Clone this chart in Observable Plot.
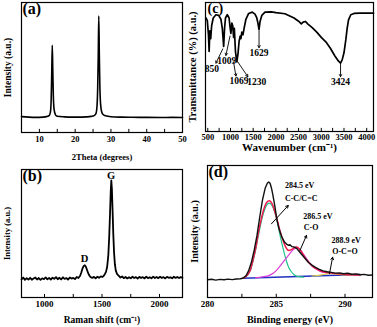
<!DOCTYPE html>
<html><head><meta charset="utf-8">
<script src="https://cdn.jsdelivr.net/npm/d3@7"></script>
<script src="https://cdn.jsdelivr.net/npm/@observablehq/plot@0.6"></script>
<style>
body{margin:0;background:#fff;}
#wrap{position:relative;width:377px;height:327px;overflow:hidden;background:#fff;}
#wrap svg{position:absolute;}
#wrap svg text{font-weight:bold;}
</style></head><body><div id="wrap"></div>
<script>
// ---------- (a) XRD ----------
const xrdTheta = [5, 7, 9, 11, 12, 12.8, 13.1, 13.3, 13.45, 13.6, 13.75, 13.9, 14.1, 14.5, 15, 17, 19, 21, 23, 24.5, 25.3, 25.8, 26.1, 26.3, 26.45, 26.6, 26.75, 26.9, 27.1, 27.4, 27.8, 28.5, 30, 33, 36, 40, 44, 47, 50];
const xrdIntensity = [12.2, 11.8, 11.6, 11.8, 12.2, 13.2, 16, 26, 45, 67, 47, 28, 18, 13.6, 12.5, 12.0, 11.8, 11.8, 12.0, 12.4, 13.0, 14.5, 20, 35, 58, 89.5, 60, 36, 22, 16, 13.8, 12.8, 12.1, 11.8, 11.7, 11.6, 11.5, 11.6, 11.5];
const xrdTicksMajor = [10, 20, 30, 40, 50];
const xrdTicksMinor = [15, 25, 35, 45];

// ---------- (b) Raman ----------
const ramanShift = [800, 815, 830, 845, 860, 875, 890, 905, 920, 935, 950, 965, 980, 995, 1010, 1025, 1040, 1055, 1070, 1085, 1100, 1115, 1130, 1145, 1160, 1175, 1190, 1205, 1220, 1235, 1250, 1265, 1280, 1295, 1310, 1320, 1330, 1340, 1350, 1360, 1370, 1380, 1390, 1400, 1415, 1430, 1445, 1460, 1475, 1490, 1505, 1520, 1535, 1545, 1555, 1563, 1570, 1576, 1581, 1586, 1592, 1598, 1605, 1612, 1620, 1630, 1645, 1660, 1675, 1690, 1705, 1720, 1735, 1750, 1765, 1780, 1795, 1810, 1825, 1840, 1855, 1870, 1885, 1900, 1915, 1930, 1945, 1960, 1975, 1990, 2005, 2020, 2035, 2050, 2065, 2080, 2095, 2110, 2125, 2140, 2155, 2170, 2185, 2200];
const ramanIntensity = [14.2, 15.6, 13.8, 15.1, 14.0, 15.4, 13.9, 14.8, 15.6, 14.1, 15.2, 13.8, 15.0, 14.4, 15.7, 14.2, 15.3, 14.0, 15.5, 14.6, 15.9, 14.3, 15.4, 14.1, 15.8, 14.5, 15.2, 14.0, 15.6, 14.8, 15.3, 14.4, 16.0, 15.2, 17.0, 19.5, 22.5, 24.5, 25.2, 24.0, 21.5, 19.0, 17.2, 16.0, 15.3, 16.1, 15.0, 16.3, 15.4, 16.5, 16.0, 17.5, 20, 24, 33, 48, 66, 83, 91.4, 85, 68, 50, 35, 26, 21, 18.5, 17, 15.6, 16.4, 15.1, 16.0, 14.9, 15.8, 15.0, 16.2, 15.2, 15.9, 14.8, 16.1, 15.3, 15.9, 14.9, 16.2, 15.1, 15.8, 15.0, 16.3, 15.2, 16.0, 15.1, 16.2, 15.3, 15.9, 14.9, 16.1, 15.4, 15.8, 15.0, 16.2, 15.3, 16.0, 15.2, 15.9, 15.4];
const ramanTicksMajor = [1000, 1500, 2000];
const ramanTicksMinor = [1250, 1750];
const ramanBandNames = ["D", "G"];
const ramanBandShift = [1348, 1580];
const ramanBandLevel = [30.2, 95.3];

// ---------- (c) FTIR ----------
const ftirWavenumber = [460, 490, 515, 530, 545, 565, 585, 620, 680, 740, 790, 820, 850, 870, 890, 930, 970, 990, 1009, 1030, 1050, 1069, 1085, 1110, 1140, 1165, 1190, 1215, 1230, 1250, 1275, 1300, 1340, 1400, 1480, 1540, 1580, 1605, 1629, 1650, 1690, 1760, 1900, 2000, 2200, 2400, 2500, 2560, 2600, 2650, 2700, 2800, 2900, 3000, 3100, 3200, 3300, 3380, 3424, 3460, 3500, 3540, 3570, 3600, 3650, 3720, 3850, 4150];
const ftirTransmittance = [88, 86, 75, 62, 78, 72, 82, 88, 90.5, 90, 87, 80, 66, 80, 88, 90.5, 88, 81, 76, 84, 82, 73, 80, 62, 54, 60, 70, 74, 72, 77, 75, 80, 87, 91.5, 92.5, 91, 88, 84, 79, 85, 90, 92.5, 92.8, 92.2, 91.3, 88, 85.5, 83.5, 84.8, 85.3, 83.5, 80.5, 77, 73, 69.5, 64.5, 58.5, 54.5, 53, 55.5, 61, 71, 80, 86.5, 90.5, 91.5, 91.7, 91.7];
const ftirTicks = [500, 1000, 1500, 2000, 2500, 3000, 3500, 4000];
const ftirTicksMinor = [750, 1250, 1750, 2250, 2750, 3250, 3750];
const ftirBandLabels = ["850", "1009", "1069", "1230", "1629", "3424"];
const ftirLabelX = [589, 919, 1188, 1580, 1629, 3424];
const ftirLabelY = [48.6, 55, 39, 38.2, 61.2, 38.2];
const ftirArrowFromX = [830, 990, 1067, 1160, 1629, 3424];
const ftirArrowFromY = [64, 74, 54, 54, 78, 52];
const ftirArrowToX = [680, 900, 1120, 1382, 1629, 3424];
const ftirArrowToY = [53, 59, 43, 42.5, 65, 42.5];

// ---------- (d) XPS C1s ----------
const xpsRawE = [280.0, 280.3, 280.6, 280.9, 281.2, 281.5, 281.8, 282.1, 282.4, 282.6, 282.8, 283.0, 283.2, 283.4, 283.6, 283.8, 284.0, 284.2, 284.35, 284.45, 284.55, 284.65, 284.75, 284.9, 285.05, 285.2, 285.4, 285.6, 285.75, 285.9, 286.0, 286.15, 286.3, 286.5, 286.7, 286.9, 287.1, 287.35, 287.6, 287.85, 288.1, 288.4, 288.7, 289.0, 289.3, 289.6, 289.9, 290.2, 290.5, 290.8, 291.1, 291.4, 291.7, 292.0];
const xpsRawI = [13.4, 13.8, 13.2, 13.7, 13.4, 13.9, 13.5, 14.0, 14.2, 14.8, 16.5, 20.5, 27, 36, 47, 61, 74, 83, 86.5, 87.5, 86.5, 83, 78, 69, 59, 52, 46, 42, 40.5, 39.5, 40, 38.5, 38.3, 37, 34.5, 32, 29.5, 26.5, 24.5, 22.8, 21.5, 20.2, 19.5, 19.0, 18.5, 18.6, 18.0, 18.4, 17.6, 17.9, 17.2, 17.5, 16.9, 17.0];
const xpsFitE = [282.6, 282.9, 283.1, 283.3, 283.5, 283.7, 283.9, 284.1, 284.3, 284.5, 284.7, 284.9, 285.1, 285.3, 285.5, 285.7, 285.9, 286.1, 286.3, 286.5, 286.7, 286.9, 287.1, 287.35, 287.6, 287.9, 288.2, 288.5, 288.8, 289.1, 289.5, 290.0, 290.5, 291.1];
const xpsFitI = [14.6, 17, 20.5, 28, 37, 49, 59, 67, 72, 73.3, 71, 65, 57.5, 49.5, 43, 38, 35.6, 36.3, 37.6, 38.2, 36.5, 33.5, 30, 26.7, 24, 21.8, 20.3, 19.3, 18.8, 18.4, 17.9, 17.5, 17.2, 17.0];
const xpsCCE = [282.6, 282.9, 283.1, 283.3, 283.5, 283.7, 283.9, 284.1, 284.3, 284.5, 284.7, 284.9, 285.1, 285.3, 285.5, 285.7, 285.9, 286.1, 286.3, 286.6, 287.0];
const xpsCCI = [14.6, 16.8, 20, 27, 36, 47, 57, 65, 70, 71.5, 69.5, 64.5, 56, 46, 37, 29, 23, 19.5, 17.3, 15.8, 15.4];
const xpsCOE = [283.5, 284.0, 284.5, 284.8, 285.1, 285.4, 285.7, 286.0, 286.2, 286.45, 286.6, 286.8, 287.0, 287.3, 287.6, 287.9, 288.2, 288.6, 289.0, 289.5];
const xpsCOI = [15.0, 15.6, 16.8, 18.5, 21.5, 25.5, 29.5, 33.5, 36, 37.5, 37.3, 35.5, 32.5, 28, 24.2, 21.5, 19.8, 18.7, 18.2, 17.9];
const xpsOCOE = [287.6, 288.2, 288.6, 288.9, 289.2, 289.6, 290.1, 290.6];
const xpsOCOI = [16.3, 17.0, 17.8, 18.2, 18.0, 17.5, 17.1, 17.2];
const xpsBaseE = [282.6, 291.1];
const xpsBaseI = [14.6, 17.4];
const xpsTicksMajor = [280, 285, 290];
const xpsTicksMinor = [282.5, 287.5];
const xpsPeakText = ["284.5 eV", "C-C/C=C", "286.5 eV", "C-O", "288.9 eV", "O-C=O"];
const xpsPeakTextE = [285.63, 285.63, 286.96, 287.0, 289.02, 289.07];
const xpsPeakTextI = [84.8, 75, 61.4, 53.3, 43.2, 35];
const xpsArrowFromE = [284.65, 286.72, 288.87];
const xpsArrowFromI = [55.8, 35.6, 18];
const xpsArrowToE = [285.87, 287.2, 289.1];
const xpsArrowToI = [69.7, 47, 30.5];

// ---------- layout helpers ----------
const FONT = "'Liberation Serif', 'Times New Roman', serif";
const wrap = document.getElementById("wrap");

function panel(o) {
  const svg = Plot.plot({
    width: o.width, height: o.height,
    marginLeft: o.ml, marginRight: o.mr, marginTop: o.mt, marginBottom: o.mb,
    x: {domain: o.xDomain},
    y: {domain: [0, 100], axis: null},
    style: {fontFamily: FONT, fontWeight: "bold", background: "transparent", overflow: "visible", color: "#000"},
    marks: o.marks
  });
  svg.style.left = o.left + "px";
  svg.style.top = o.top + "px";
  wrap.appendChild(svg);
}

function axes(major, minor, tickFont, tickPad, title, titleFont, titleDy, ylabel, ylabelFont, ylabelDx, tag, tagFont, tagDx, tagDy) {
  return [
    Plot.ruleX(major.concat(minor), {x: d => d, y1: 0, y2: 2.4, stroke: "#000", strokeWidth: 1}),
    Plot.axisX(major, {tickSize: 0, tickPadding: tickPad, fontSize: tickFont, label: null, tickFormat: d => String(d), fill: "#000"}),
    Plot.text([title], {text: d => d, frameAnchor: "bottom", dy: titleDy, fontSize: titleFont, lineAnchor: "middle", textAnchor: "middle", fontWeight: "bold"}),
    Plot.text([ylabel], {text: d => d, frameAnchor: "left", dx: ylabelDx, rotate: -90, fontSize: ylabelFont, lineAnchor: "middle", textAnchor: "middle", fontWeight: "bold"}),
    Plot.text([tag], {text: d => d, frameAnchor: "top-left", dx: tagDx, dy: tagDy, fontSize: tagFont, textAnchor: "start", lineAnchor: "top", fontWeight: "bold"}),
    Plot.frame({stroke: "#000", strokeWidth: 1.2})
  ];
}

// (a)
panel({left: 0, top: 0, width: 188, height: 165, ml: 21, mr: 6, mt: 2, mb: 33, xDomain: [5, 50],
  marks: [
    Plot.line(xrdIntensity, {x: xrdTheta, y: xrdIntensity, stroke: "#000", strokeWidth: 1.6, curve: "monotone-x"}),
    ...axes(xrdTicksMajor, xrdTicksMinor, 8.5, 3, "2Theta (degrees)", 8.5, 25, "Intensity (a.u.)", 9.5, -14, "(a)", 16, 1, 0)
  ]});

// (b)
panel({left: 0, top: 165, width: 188, height: 162, ml: 21, mr: 6, mt: 4, mb: 30, xDomain: [800, 2200],
  marks: [
    Plot.line(ramanIntensity, {x: ramanShift, y: ramanIntensity, stroke: "#000", strokeWidth: 1.8}),
    Plot.text(ramanBandNames, {x: ramanBandShift, y: ramanBandLevel, text: d => d, fontSize: 10.5, fontWeight: "bold"}),
    ...axes(ramanTicksMajor, ramanTicksMinor, 9, 3, "Raman shift (cm⁻¹)", 9.5, 22, "Intensity (a.u.)", 8.5, -14, "(b)", 16, 1, 0)
  ]});

// (c)
panel({left: 188, top: 0, width: 189, height: 163, ml: 17, mr: 4, mt: 2, mb: 32, xDomain: [450, 4150],
  marks: [
    Plot.line(ftirTransmittance, {x: ftirWavenumber, y: ftirTransmittance, stroke: "#000", strokeWidth: 1.7}),
    Plot.arrow(ftirBandLabels, {x1: ftirArrowFromX, y1: ftirArrowFromY, x2: ftirArrowToX, y2: ftirArrowToY, stroke: "#000", strokeWidth: 0.9, headLength: 4}),
    Plot.text(ftirBandLabels, {x: ftirLabelX, y: ftirLabelY, text: d => d, fontSize: 9.5, fontWeight: "bold"}),
    ...axes(ftirTicks, ftirTicksMinor, 8.5, 2.5, "Wavenumber (cm⁻¹)", 11, 16, "Transmittance (%) (a.u.)", 10.5, -13, "(c)", 14, 2, 1)
  ]});

// (d)
panel({left: 188, top: 163, width: 189, height: 164, ml: 19, mr: 5, mt: 2, mb: 30, xDomain: [280, 292],
  marks: [
    Plot.line(xpsBaseI, {x: xpsBaseE, y: xpsBaseI, stroke: "#1f2fc0", strokeWidth: 1.6}),
    Plot.line(xpsCCI, {x: xpsCCE, y: xpsCCI, stroke: "#1fc28a", strokeWidth: 1.2, curve: "monotone-x"}),
    Plot.line(xpsCOI, {x: xpsCOE, y: xpsCOI, stroke: "#d93fd9", strokeWidth: 1.2, curve: "monotone-x"}),
    Plot.line(xpsOCOI, {x: xpsOCOE, y: xpsOCOI, stroke: "#d8cc4a", strokeWidth: 1.2, curve: "monotone-x"}),
    Plot.line(xpsFitI, {x: xpsFitE, y: xpsFitI, stroke: "#f0194a", strokeWidth: 1.5, curve: "monotone-x"}),
    Plot.line(xpsRawI, {x: xpsRawE, y: xpsRawI, stroke: "#111", strokeWidth: 1.4}),
    Plot.arrow(xpsArrowFromE, {x1: xpsArrowFromE, y1: xpsArrowFromI, x2: xpsArrowToE, y2: xpsArrowToI, stroke: "#000", strokeWidth: 1, headLength: 4}),
    Plot.text(xpsPeakText, {x: xpsPeakTextE, y: xpsPeakTextI, text: d => d, fontSize: 8, textAnchor: "start", fontWeight: "bold"}),
    ...axes(xpsTicksMajor, xpsTicksMinor, 9, 3, "Binding energy (eV)", 10, 22, "Intensity (a.u.)", 10, -13, "(d)", 16, 1, 0)
  ]});
</script>
</body></html>
